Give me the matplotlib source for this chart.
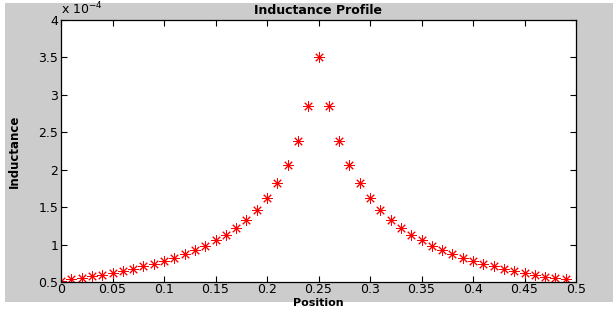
import numpy as np
import matplotlib.pyplot as plt
from matplotlib.patches import Rectangle
from matplotlib.ticker import FuncFormatter

# position (m) and inductance (in units of 1e-4 H)
position = [i / 100 for i in range(50)]
inductance_e4 = [
    0.517, 0.535, 0.557, 0.575, 0.593, 0.620, 0.647, 0.678, 0.709, 0.741,
    0.785, 0.821, 0.873, 0.928, 0.987, 1.058, 1.129, 1.223, 1.334, 1.465,
    1.620, 1.816, 2.066, 2.390, 2.850, 3.505, 2.845, 2.390, 2.066, 1.816,
    1.620, 1.465, 1.334, 1.223, 1.129, 1.058, 0.985, 0.928, 0.872, 0.821,
    0.785, 0.741, 0.709, 0.678, 0.647, 0.620, 0.593, 0.566, 0.548, 0.535,
]
xticks = [0, 0.05, 0.1, 0.15, 0.2, 0.25, 0.3, 0.35, 0.4, 0.45, 0.5]
yticks_e4 = [0.5, 1, 1.5, 2, 2.5, 3, 3.5, 4]

ind = np.array(inductance_e4) * 1e-4

fig = plt.figure(figsize=(6.13, 3.09), dpi=100)
fig.patch.set_facecolor('white')
fig.patches.append(Rectangle((5 / 613, 7 / 309), 608 / 613, 299 / 309,
                             transform=fig.transFigure, facecolor='#cccccc',
                             edgecolor='none', zorder=-10))

ax = fig.add_axes([61 / 613, 27 / 309, 515 / 613, 262 / 309])
ax.set_facecolor('white')
# matlab style asterisk: plus + cross
ax.plot(position, ind, linestyle='none', marker=(8, 2, 0), color='red',
        markersize=7.5, markeredgewidth=0.7)

ax.set_xlim(0, 0.5)
ax.set_ylim(0.5e-4, 4e-4)
ax.set_xticks(xticks)
ax.set_xticklabels([('%g' % t) for t in xticks])
ax.set_yticks([t * 1e-4 for t in yticks_e4])
ax.yaxis.set_major_formatter(FuncFormatter(lambda v, p: '%g' % round(v / 1e-4, 3)))
ax.tick_params(direction='in', top=True, right=True, length=4, width=0.8,
               labelsize=9, colors='black', pad=2)
ax.tick_params(axis='x', pad=1)
for s in ax.spines.values():
    s.set_linewidth(0.9)

ax.text(0.0, 1.01, r'x 10$^{-4}$', transform=ax.transAxes, fontsize=9,
        ha='left', va='bottom')
ax.set_title('Inductance Profile', fontsize=9, fontweight='bold', pad=4)
ax.set_xlabel('Position', fontsize=8, fontweight='bold')
ax.xaxis.set_label_coords(0.5, -0.1)
ax.xaxis.label.set_va('bottom')
ax.set_ylabel('Inductance', fontsize=8.5, fontweight='bold',
              family=['Liberation Sans Narrow', 'DejaVu Sans'])
ax.yaxis.set_label_coords(-0.078, 0.5)

fig.savefig('out.png', dpi=100, facecolor=fig.get_facecolor())
